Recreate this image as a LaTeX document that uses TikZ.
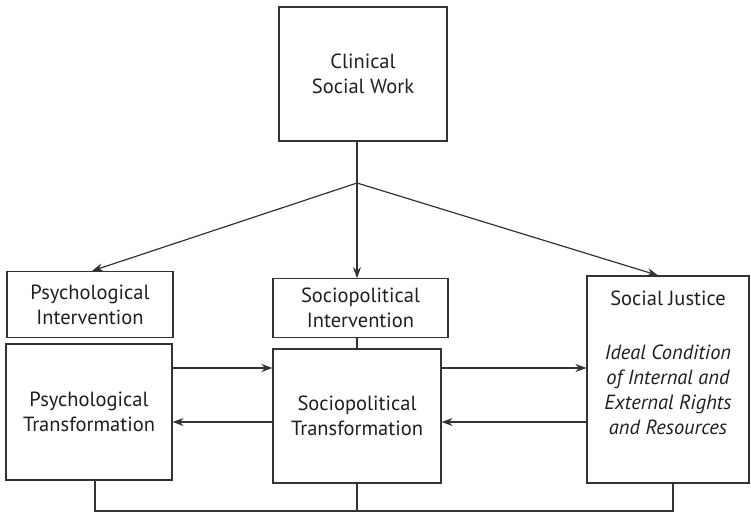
\documentclass[tikz,border=0pt]{standalone}
\usepackage{fontspec}
\setmainfont{PT Sans}
\usepackage{xcolor}
\usepackage{tikz}
\usetikzlibrary{arrows,arrows.meta}
\definecolor{ink}{HTML}{333333}

\begin{document}
\begin{tikzpicture}[x=1pt,y=-1pt,>={Stealth[length=11pt,width=8pt]},line width=1.2pt,draw=ink]
            \tikzstyle{every node}+=[inner sep=0pt,text=ink!60!black,font=\fontsize{20.5}{25}\selectfont]
            \tikzstyle{box}=[draw=ink,rectangle,align=center]
            \useasboundingbox (0,0) rectangle (751,513);
            \node [box,minimum width=168,minimum height=134] (csw) at (363,74) {Clinical\\Social Work};
            \node [box,minimum width=166,minimum height=66] (pi) at (90,304.5) {Psychological\\Intervention};
            \node [box,minimum width=166,minimum height=136] (pt) at (89,412) {Psychological\\Transformation};
            \node [box,minimum width=175,minimum height=58.5] (si) at (360.5,308) {Sociopolitical\\Intervention};
            \node [box,minimum width=168,minimum height=134] (st) at (357,416) {Sociopolitical\\Transformation};
            \node [box,minimum width=162,minimum height=207] (sj) at (668,379.5) {};
            \node [anchor=north,align=center] (sjt) at ([yshift=-15pt]sj.north) {Social Justice\\[29pt]\itshape Ideal Condition\\\itshape of Internal and\\\itshape External Rights\\\itshape and Resources};
            \coordinate (j) at (357,183);
            \coordinate (b) at (0,511);
            \draw [ink] (j |- csw.south) -- (j);
            \draw [ink,->] (j) -- ([xshift=2pt]pi.north);
            \draw [ink,->] (j) -- (j |- si.north);
            \draw [ink,->] (j) -- ([xshift=-10pt]sj.north);
            \draw [ink] (j |- si.south) -- (j |- st.north);
            \draw [ink,->] (pt.east |- 0,368) -- (st.west |- 0,368);
            \draw [ink,->] (st.west |- 0,422) -- (pt.east |- 0,422);
            \draw [ink,->] (st.east |- 0,368) -- (sj.west |- 0,368);
            \draw [ink,->] (sj.west |- 0,422) -- (st.east |- 0,422);
            \draw [ink] ([xshift=6pt]pt.south) |- ([xshift=5pt]sj.south |- b) -- ([xshift=5pt]sj.south);
            \draw [ink] (st.south -| j) -- (j |- b);
        \end{tikzpicture}
\end{document}
